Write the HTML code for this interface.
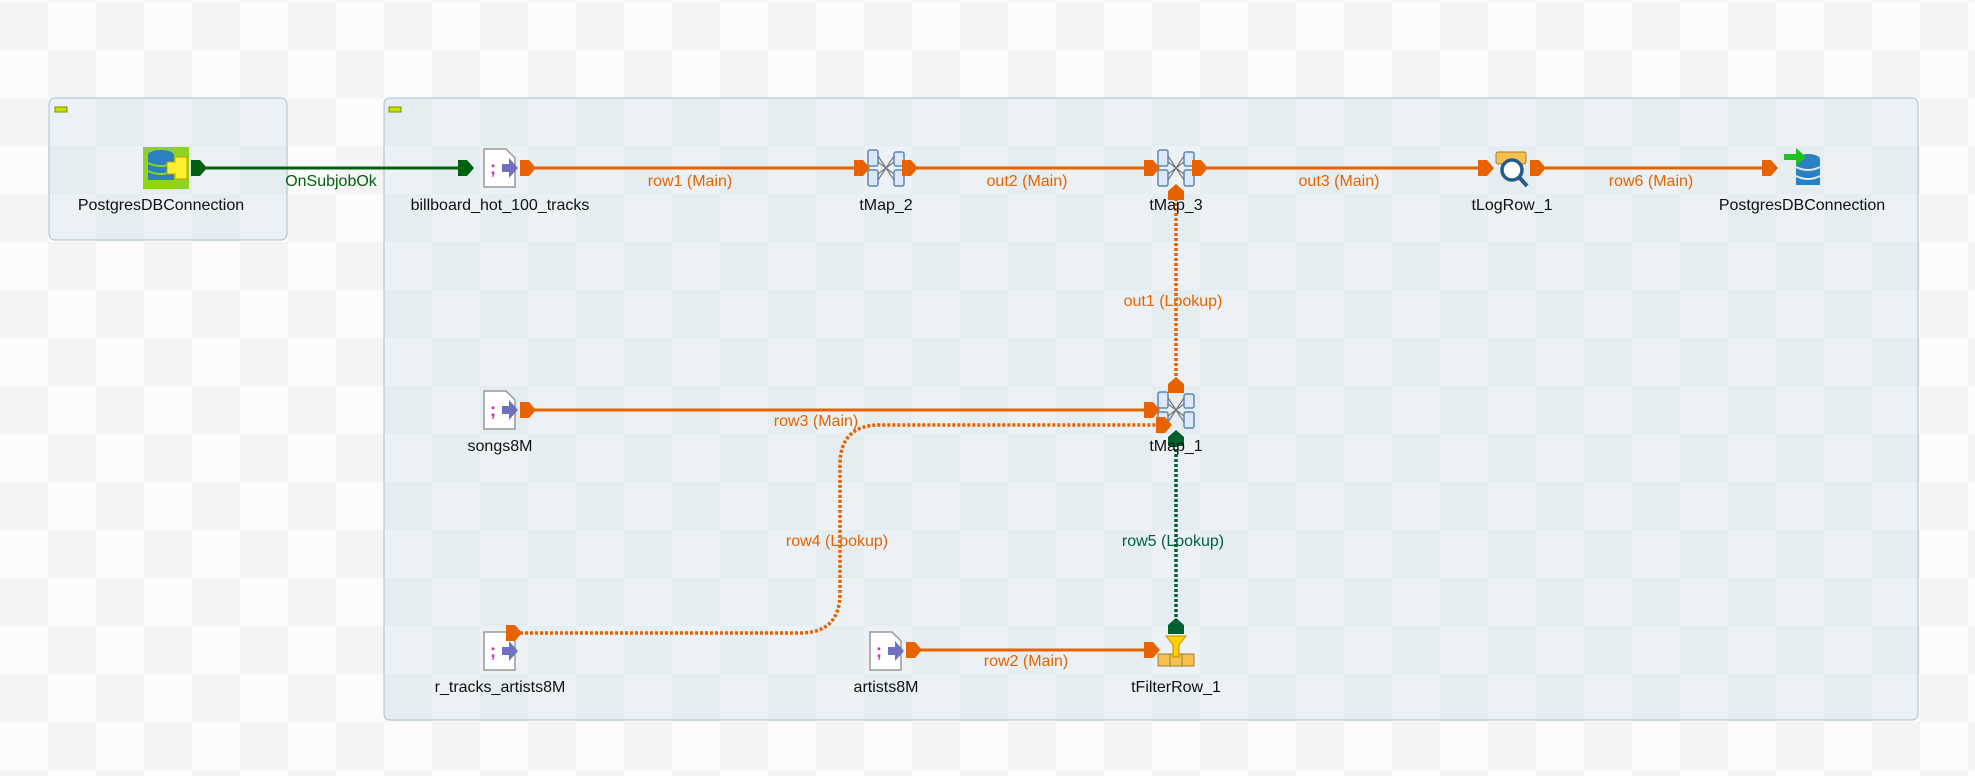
<!DOCTYPE html>
<html><head><meta charset="utf-8"><style>
html,body{margin:0;padding:0;width:1975px;height:776px;overflow:hidden;background:#fbfbfb;}
svg{display:block}
text{font-family:"Liberation Sans",sans-serif;font-size:16px;}
</style></head><body>
<svg width="1975" height="776" viewBox="0 0 1975 776" xmlns="http://www.w3.org/2000/svg">
<defs>
<pattern id="chk" width="96" height="96" patternUnits="userSpaceOnUse" x="0" y="2">
<rect width="96" height="96" fill="#fbfbfb"/>
<rect width="48" height="48" fill="#f4f4f4"/>
<rect x="48" y="48" width="48" height="48" fill="#f4f4f4"/>
</pattern>
<pattern id="chk2" width="96" height="96" patternUnits="userSpaceOnUse" x="0" y="2">
<rect width="96" height="96" fill="#ebf1f5"/>
<rect width="48" height="48" fill="#e5edf1"/>
<rect x="48" y="48" width="48" height="48" fill="#e5edf1"/>
</pattern>
<g id="file">
<path d="M-16,-19 h22 l9,9 v29 h-31z" fill="#fff" stroke="#999" stroke-width="1.5"/>
<text x="-10" y="6" fill="#e020c0" font-weight="bold" style="font-size:18px">;</text>
<path d="M2,-4 h7 v-6 l9,10 l-9,10 v-6 h-7z" fill="#7070c0"/>
</g>
<g id="tmap">
<rect x="-18" y="-18" width="10" height="16" rx="2" fill="#dde8f4" stroke="#5a88b8" stroke-width="1.5"/>
<rect x="-18" y="2" width="10" height="16" rx="2" fill="#dde8f4" stroke="#5a88b8" stroke-width="1.5"/>
<rect x="8" y="-16" width="10" height="14" rx="2" fill="#dde8f4" stroke="#5a88b8" stroke-width="1.5"/>
<rect x="8" y="2" width="10" height="16" rx="2" fill="#dde8f4" stroke="#5a88b8" stroke-width="1.5"/>
<path d="M-8,-12 L8,12 M-8,12 L8,-12 M-8,-6 L8,6 M-8,6 L8,-6" stroke="#777" stroke-width="1.2"/>
</g>
<g id="tabR"><path d="M-8,-8 h9 l7,8 l-7,8 h-9z"/></g>
<g id="tabU"><path d="M-8,8 v-9 l8,-7 l8,7 v9z"/></g>
</defs>
<rect width="1975" height="776" fill="url(#chk)"/>
<rect x="49" y="98" width="238" height="142" rx="6" fill="url(#chk2)" stroke="#a9bfcf"/>
<rect x="55" y="107" width="12" height="5" fill="#c8e000" stroke="#7a9000"/>
<rect x="384" y="98" width="1534" height="622" rx="6" fill="url(#chk2)" stroke="#a9bfcf"/>
<rect x="389" y="107" width="12" height="5" fill="#c8e000" stroke="#7a9000"/>

<g stroke="#006010" stroke-width="3"><line x1="200" y1="168" x2="470" y2="168"/></g>
<g stroke="#e66300" stroke-width="3" fill="none">
<line x1="525" y1="168" x2="862" y2="168"/>
<line x1="912" y1="168" x2="1152" y2="168"/>
<line x1="1200" y1="168" x2="1486" y2="168"/>
<line x1="1538" y1="168" x2="1770" y2="168"/>
<line x1="525" y1="410" x2="1152" y2="410"/>
<line x1="915" y1="650" x2="1152" y2="650"/>
<path d="M520,633 H800 Q840,633 840,593 V465 Q840,425 880,425 H1162" stroke-dasharray="3,2" stroke-width="3.5"/>
<line x1="1176" y1="386" x2="1176" y2="190" stroke-dasharray="3,2" stroke-width="3.5"/>
</g>
<line x1="1176" y1="622" x2="1176" y2="436" stroke="#006030" stroke-width="3.5" stroke-dasharray="3,2"/>

<g transform="translate(161,168)">
<rect x="-18" y="-21" width="46" height="42" fill="#8fd320"/>
<ellipse cx="0" cy="-13" rx="13" ry="5" fill="#2a80c0"/>
<rect x="-13" y="-12" width="26" height="24" fill="#2a80c0"/>
<path d="M-13,-5 q13,6 26,0 M-13,3 q13,6 26,0" stroke="#8fd320" stroke-width="2" fill="none"/>
<path d="M6,-6 h8 v-5 h12 v22 h-12 v-5 h-8z" fill="#ffef30" stroke="#c0a000"/>
</g>
<g fill="#006010"><use href="#tabR" transform="translate(199,168)"/><use href="#tabR" transform="translate(466,168)"/></g>
<use href="#file" transform="translate(500,168)"/>
<use href="#file" transform="translate(500,410)"/>
<use href="#file" transform="translate(500,651)"/>
<use href="#file" transform="translate(886,651)"/>
<use href="#tmap" transform="translate(886,168)"/>
<use href="#tmap" transform="translate(1176,168)"/>
<use href="#tmap" transform="translate(1176,410)"/>
<g transform="translate(1512,168)">
<rect x="-16" y="-16" width="30" height="12" rx="2" fill="#f5c050" stroke="#a08030"/>
<circle cx="0" cy="2" r="10" fill="#fff" stroke="#2a5a8a" stroke-width="3.5"/>
<line x1="7" y1="9" x2="15" y2="18" stroke="#2a5a8a" stroke-width="4"/>
</g>
<g transform="translate(1802,168)">
<ellipse cx="6" cy="-9" rx="12" ry="5" fill="#2a80c0"/>
<rect x="-6" y="-9" width="24" height="26" fill="#2a80c0"/>
<path d="M-6,-1 q12,6 24,0 M-6,8 q12,6 24,0" stroke="#e3ecf2" stroke-width="2" fill="none"/>
<path d="M-18,-14 h12 v-6 l10,9 l-10,9 v-6 h-12z" fill="#20c020"/>
</g>
<g transform="translate(1176,651)">
<rect x="-18" y="3" width="36" height="12" fill="#f5c050" stroke="#a08030"/>
<path d="M-6,3 v12 M6,3 v12" stroke="#a08030"/>
<path d="M-10,-15 h20 l-7,9 v12 h-6 v-12z" fill="#ffd000" stroke="#c09000"/>
</g>

<g fill="#e66300">
<use href="#tabR" transform="translate(528,168)"/><use href="#tabR" transform="translate(862,168)"/>
<use href="#tabR" transform="translate(910,168)"/><use href="#tabR" transform="translate(1152,168)"/>
<use href="#tabR" transform="translate(1200,168)"/><use href="#tabR" transform="translate(1486,168)"/>
<use href="#tabR" transform="translate(1538,168)"/><use href="#tabR" transform="translate(1770,168)"/>
<use href="#tabR" transform="translate(528,410)"/><use href="#tabR" transform="translate(1152,410)"/>
<use href="#tabR" transform="translate(1164,425)"/>
<use href="#tabR" transform="translate(514,633)"/>
<use href="#tabR" transform="translate(914,650)"/><use href="#tabR" transform="translate(1152,650)"/>
<use href="#tabU" transform="translate(1176,385)"/><use href="#tabU" transform="translate(1176,192)"/>
</g>
<g fill="#006030"><use href="#tabU" transform="translate(1176,438)"/><use href="#tabU" transform="translate(1176,626)"/></g>

<g fill="#111" text-anchor="middle">
<text x="161" y="210">PostgresDBConnection</text>
<text x="500" y="210">billboard_hot_100_tracks</text>
<text x="886" y="210">tMap_2</text>
<text x="1176" y="210">tMap_3</text>
<text x="1512" y="210">tLogRow_1</text>
<text x="1802" y="210">PostgresDBConnection</text>
<text x="500" y="451">songs8M</text>
<text x="1176" y="451">tMap_1</text>
<text x="500" y="692">r_tracks_artists8M</text>
<text x="886" y="692">artists8M</text>
<text x="1176" y="692">tFilterRow_1</text>
</g>
<g fill="#e66300" text-anchor="middle">
<text x="690" y="186">row1 (Main)</text>
<text x="1027" y="186">out2 (Main)</text>
<text x="1339" y="186">out3 (Main)</text>
<text x="1651" y="186">row6 (Main)</text>
<text x="1173" y="306">out1 (Lookup)</text>
<text x="816" y="426">row3 (Main)</text>
<text x="837" y="546">row4 (Lookup)</text>
<text x="1026" y="666">row2 (Main)</text>
</g>
<text x="331" y="186" fill="#006010" text-anchor="middle">OnSubjobOk</text>
<text x="1173" y="546" fill="#006040" text-anchor="middle">row5 (Lookup)</text>
</svg>
</body></html>
